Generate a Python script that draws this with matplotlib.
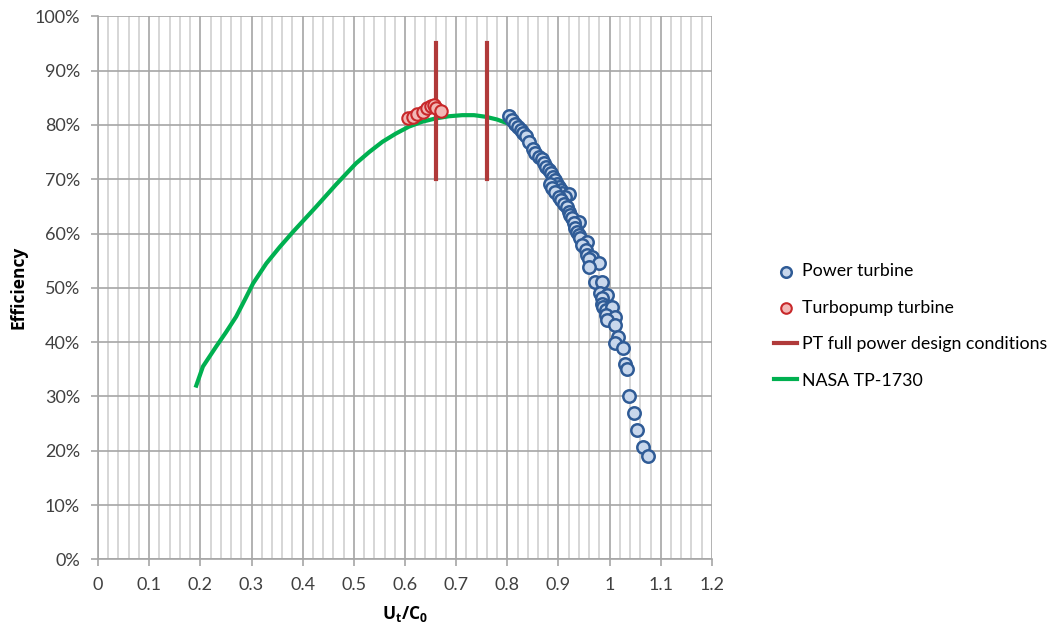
import numpy as np
import matplotlib.pyplot as plt
from matplotlib.ticker import MultipleLocator, PercentFormatter, FuncFormatter

# ---------------- data ----------------
# Power turbine (U/C0, efficiency %)
pt_x = [0.803, 0.810, 0.816, 0.821, 0.826, 0.830, 0.836, 0.842, 0.850, 0.855,
        0.862, 0.868, 0.871, 0.876, 0.881, 0.886, 0.889, 0.893, 0.897, 0.901,
        0.904, 0.907, 0.920, 0.913, 0.884, 0.888, 0.894, 0.901, 0.904, 0.910,
        0.917, 0.920, 0.923, 0.927, 0.940, 0.930, 0.933, 0.936, 0.940, 0.943,
        0.956, 0.946, 0.953, 0.956, 0.966, 0.959, 0.979, 0.959, 0.972, 0.985,
        0.982, 0.995, 0.985, 0.985, 0.988, 0.992, 1.005, 0.992, 1.011, 0.995,
        1.011, 1.017, 1.011, 1.027, 1.030, 1.034, 1.037, 1.047, 1.054, 1.066,
        1.076]
pt_y = [81.6, 80.9, 80.2, 79.7, 79.1, 78.6, 78.0, 76.9, 75.5, 74.9,
        74.1, 73.7, 72.9, 72.3, 71.7, 71.1, 70.5, 69.9, 69.2, 68.5,
        68.0, 67.4, 67.3, 66.7, 69.2, 68.3, 67.7, 66.8, 66.2, 65.4,
        64.9, 64.0, 63.4, 62.8, 62.2, 61.9, 61.0, 60.3, 59.7, 59.1,
        58.5, 57.9, 57.0, 56.0, 55.7, 55.4, 54.6, 53.9, 51.0, 51.1,
        49.0, 48.7, 48.1, 47.1, 46.5, 45.9, 46.5, 45.0, 44.7, 44.1,
        43.1, 40.9, 39.8, 38.9, 36.0, 35.0, 30.1, 27.0, 23.8, 20.7,
        19.1]

# Turbopump turbine
tp_x = [0.605, 0.615, 0.624, 0.635, 0.644, 0.650, 0.657, 0.661, 0.670]
tp_y = [81.2, 81.5, 82.0, 82.4, 83.1, 83.5, 83.7, 83.1, 82.6]

# PT full power design conditions (vertical bars)
design_x = [0.66, 0.76]
design_lo, design_hi = 70, 95

# NASA TP-1730 curve
nasa_x = [0.192, 0.205, 0.231, 0.250, 0.270, 0.288, 0.303, 0.329, 0.355, 0.381,
          0.426, 0.465, 0.504, 0.530, 0.556, 0.582, 0.608, 0.634, 0.660, 0.686,
          0.712, 0.735, 0.758, 0.780, 0.803, 0.822, 0.842, 0.852]
nasa_y = [32.0, 35.5, 39.2, 41.8, 44.7, 48.0, 50.8, 54.5, 57.5, 60.3,
          64.9, 69.0, 72.9, 75.0, 76.9, 78.4, 79.7, 80.6, 81.2, 81.6,
          81.8, 81.8, 81.5, 81.0, 80.2, 78.8, 76.8, 75.8]

plt.rcParams['font.family'] = ['Lato', 'DejaVu Sans']

fig = plt.figure(figsize=(10.53, 6.26), dpi=100)
ax = fig.add_axes([0.0931, 0.1065, 0.583, 0.8674])

ax.plot(nasa_x, nasa_y, color='#00b050', lw=3, label='NASA TP-1730', zorder=3,
        solid_joinstyle='round')
for i, dx in enumerate(design_x):
    ax.plot([dx, dx], [design_lo, design_hi], color='#b03a3a', lw=3, zorder=4,
            label='PT full power design conditions' if i == 0 else None)
ax.scatter(pt_x, pt_y, s=80, facecolor='#c8d7ec', edgecolor='#2f5b96', lw=1.8,
           label='Power turbine', zorder=5)
ax.scatter(tp_x, tp_y, s=80, facecolor='#f2b8b6', edgecolor='#c8282a', lw=1.5,
           label='Turbopump turbine', zorder=5)

ax.set_xlim(0, 1.2)
ax.set_ylim(0, 100)
ax.xaxis.set_major_locator(MultipleLocator(0.1))
ax.xaxis.set_minor_locator(MultipleLocator(0.02))
ax.yaxis.set_major_locator(MultipleLocator(10))
ax.yaxis.set_major_formatter(PercentFormatter(decimals=0))
ax.xaxis.set_major_formatter(FuncFormatter(lambda v, p: '%g' % round(v, 2)))

ax.grid(which='major', color='#a6a6a6', lw=1.2)
ax.grid(which='minor', axis='x', color='#d0d0d0', lw=1.2)
ax.set_axisbelow(True)
for s in ['top', 'right']:
    ax.spines[s].set_visible(False)
for s in ['left', 'bottom']:
    ax.spines[s].set_color('#a6a6a6')
    ax.spines[s].set_linewidth(1.2)
ax.tick_params(which='major', length=5, color='#a6a6a6', width=1.2,
               labelsize=13, labelcolor='#404040', pad=8)
ax.tick_params(which='minor', length=0)

ax.set_ylabel('Efficiency', fontsize=12.5, fontweight='bold', labelpad=5,
              family=['Open Sans', 'DejaVu Sans'])
ax.set_xlabel(r'U$_\mathregular{t}$/C$_\mathregular{0}$', fontsize=12.5,
              fontweight='bold', labelpad=8, family=['Open Sans', 'DejaVu Sans'])

handles, labels = ax.get_legend_handles_labels()
order = ['Power turbine', 'Turbopump turbine', 'PT full power design conditions', 'NASA TP-1730']
hmap = dict(zip(labels, handles))
ax.legend([hmap[k] for k in order], order, loc='center left',
          bbox_to_anchor=(1.075, 0.43), frameon=False, fontsize=12.8,
          handlelength=1.3, handletextpad=0.3, labelspacing=1.15, markerscale=0.85)

fig.savefig('out.png', dpi=100)
